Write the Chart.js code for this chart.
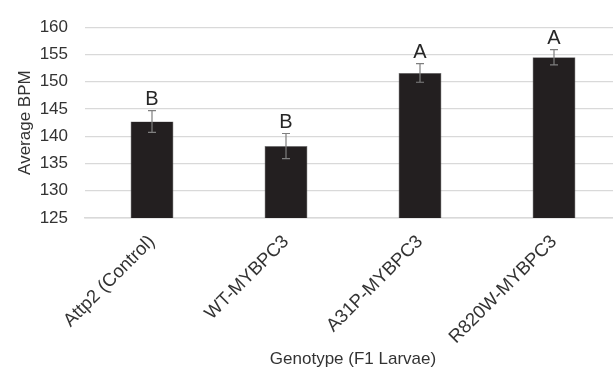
<!DOCTYPE html>
<html>
<head>
<meta charset="utf-8">
<script src="https://cdn.jsdelivr.net/npm/chart.js@4"></script>
<style>
  html, body { margin: 0; padding: 0; overflow: hidden; background: #fff; }
  #wrap { width: 630px; height: 370px; }
</style>
</head>
<body>
<div id="wrap"><canvas id="chart"></canvas></div>
<script>
const genotypes = ['Attp2 (Control)', 'WT-MYBPC3', 'A31P-MYBPC3', 'R820W-MYBPC3'];
const avgBpm = [142.7, 138.2, 151.6, 154.5];
const errBpm = [2.0, 2.3, 1.7, 1.4];
const groups = ['B', 'B', 'A', 'A'];

const FONT = 'Liberation Sans, Arial, sans-serif';
const TEXT = '#333333';

// error bars + significance letters, placed through the chart's own scales
const errorBars = {
  id: 'errorBars',
  afterDatasetsDraw(chart) {
    const ctx = chart.ctx;
    const x = chart.scales.x, y = chart.scales.y;
    ctx.save();
    avgBpm.forEach((v, i) => {
      const px = x.getPixelForValue(i);
      const top = y.getPixelForValue(v + errBpm[i]);
      const bot = y.getPixelForValue(v - errBpm[i]);
      ctx.strokeStyle = '#7f7f7f';
      ctx.lineWidth = 1.2;
      ctx.beginPath();
      ctx.moveTo(px, top); ctx.lineTo(px, bot);
      ctx.moveTo(px - 4, top); ctx.lineTo(px + 4, top);
      ctx.moveTo(px - 4, bot); ctx.lineTo(px + 4, bot);
      ctx.stroke();
      ctx.fillStyle = '#262626';
      ctx.font = '20px ' + FONT;
      ctx.textAlign = 'center';
      ctx.textBaseline = 'bottom';
      ctx.fillText(groups[i], px, top - 1);
    });
    ctx.restore();
  }
};

new Chart(document.getElementById('chart'), {
  type: 'bar',
  data: {
    labels: genotypes,
    datasets: [{
      data: avgBpm,
      backgroundColor: '#231f20',
      borderColor: '#6b6b6b',
      borderWidth: 0.6,
      barPercentage: 0.32,
      categoryPercentage: 1
    }]
  },
  options: {
    responsive: true,
    maintainAspectRatio: false,
    animation: false,
    layout: { padding: { top: 12, right: 9, bottom: 0, left: 0 } },
    plugins: { legend: { display: false }, tooltip: { enabled: false } },
    scales: {
      x: {
        afterFit(s) { s.height = 152; },
        grid: { display: false, drawTicks: false },
        border: { color: '#d9d9d9', width: 1.5 },
        ticks: {
          minRotation: 45, maxRotation: 45, padding: 13,
          color: TEXT, font: { family: FONT, size: 18.5 }
        },
        title: {
          display: true, text: 'Genotype (F1 Larvae)',
          color: TEXT, font: { family: FONT, size: 17 },
          padding: { top: 4, bottom: 0 }
        }
      },
      y: {
        min: 125, max: 160,
        afterFit(s) { s.width = 85; },
        grid: { color: '#d9d9d9', lineWidth: 1.2, drawTicks: false },
        border: { display: false },
        ticks: {
          stepSize: 5, padding: 17,
          color: TEXT, font: { family: FONT, size: 17 }
        },
        title: {
          display: true, text: 'Average BPM',
          color: TEXT, font: { family: FONT, size: 17 },
          padding: { top: 15, bottom: 0 }
        }
      }
    }
  },
  plugins: [errorBars]
});
</script>
</body>
</html>
